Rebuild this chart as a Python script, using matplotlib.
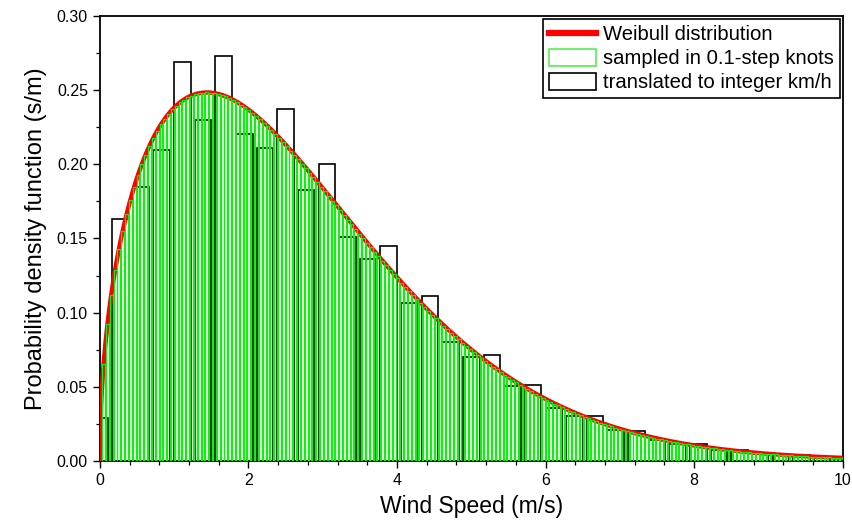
import matplotlib
matplotlib.use("Agg")
import matplotlib.pyplot as plt
import numpy as np
from matplotlib.patches import Patch
from matplotlib.lines import Line2D
from matplotlib.ticker import MultipleLocator, FormatStrFormatter

plt.rcParams["font.family"] = ["Liberation Sans", "DejaVu Sans"]

# Weibull wind-speed distribution (shape k, scale c in m/s)
SHAPE_K = 1.5
SCALE_C = 3.0

KNOT_TO_MS = 0.514444      # 1 knot in m/s
KMH_TO_MS = 1.0 / 3.6      # 1 km/h in m/s
KNOT_STEP = 0.1            # sampling step in knots
MAX_KNOTS = 20.0

X_TICKS = [0, 2, 4, 6, 8, 10]
Y_TICKS = [0.00, 0.05, 0.10, 0.15, 0.20, 0.25, 0.30]


def weibull_pdf(v, k=SHAPE_K, c=SCALE_C):
    v = np.asarray(v, dtype=float)
    return (k / c) * (v / c) ** (k - 1) * np.exp(-(v / c) ** k)


# --- samples on a 0.1-knot grid ---
knots = np.round(np.arange(0.0, MAX_KNOTS + 1e-9, KNOT_STEP), 1)
v_knots = knots * KNOT_TO_MS
pdf_knots = weibull_pdf(v_knots)
d_v = KNOT_STEP * KNOT_TO_MS

# --- the same samples regrouped into integer km/h bins ---
kmh = np.round(v_knots / KMH_TO_MS).astype(int)
kmh_bins = np.unique(kmh)
kmh_density = np.array(
    [pdf_knots[kmh == n].sum() * d_v / KMH_TO_MS for n in kmh_bins]
)
v_kmh = kmh_bins * KMH_TO_MS

v_curve = np.linspace(0.0, 10.0, 2001)

fig = plt.figure(figsize=(8.53, 5.32), dpi=100)
ax = fig.add_axes([0.117, 0.1335, 0.871, 0.8365])

ax.bar(v_kmh, kmh_density, width=0.8 * KMH_TO_MS, facecolor="none",
       edgecolor="black", linewidth=1.2, zorder=2)
ax.plot(v_curve, weibull_pdf(v_curve), color="#ff0000", lw=3.2, zorder=3)
ax.bar(v_knots, pdf_knots, width=0.75 * d_v, facecolor="none",
       edgecolor="#11ee11", linewidth=0.9, zorder=4)

ax.set_xlim(0, 10)
ax.set_ylim(0, 0.30)
ax.set_xticks(X_TICKS)
ax.set_yticks(Y_TICKS)
ax.xaxis.set_minor_locator(MultipleLocator(0.4))
ax.yaxis.set_minor_locator(MultipleLocator(0.025))
ax.yaxis.set_major_formatter(FormatStrFormatter("%.2f"))
ax.tick_params(axis="both", which="major", direction="out", length=5,
               width=1.0, labelsize=11.5)
ax.tick_params(axis="both", which="minor", direction="out", length=3,
               width=0.9)
for side in ax.spines.values():
    side.set_linewidth(1.3)

ax.set_xlabel("Wind Speed (m/s)", fontsize=16.5, labelpad=5)
ax.set_ylabel("Probability density function (s/m)", fontsize=17, labelpad=7)

handles = [
    Line2D([0], [0], color="#ff0000", lw=4.5),
    Patch(facecolor="white", edgecolor="#55ee55", linewidth=1.2),
    Patch(facecolor="white", edgecolor="black", linewidth=1.2),
]
labels = [
    "Weibull distribution",
    "sampled in 0.1-step knots",
    "translated to integer km/h",
]
leg = ax.legend(handles, labels, loc="upper right", fontsize=14.6,
                frameon=True, fancybox=False, framealpha=1,
                borderaxespad=0.15, handlelength=2.3, handleheight=0.9,
                handletextpad=0.35, borderpad=0.3, labelspacing=0.22)
leg.get_frame().set_edgecolor("black")
leg.get_frame().set_linewidth(1.2)
leg.set_zorder(10)

fig.savefig("out.png", dpi=100)
plt.close(fig)
